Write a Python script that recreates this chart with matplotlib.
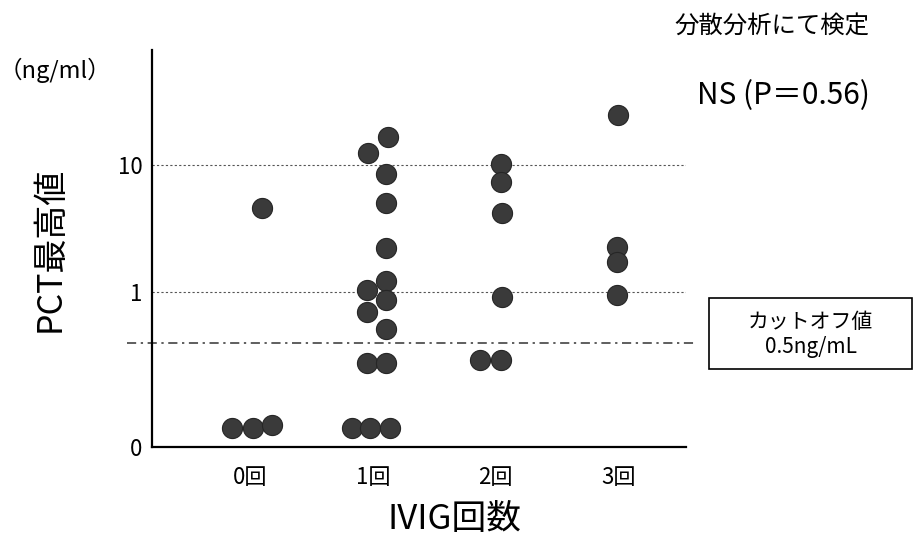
import matplotlib
matplotlib.use("Agg")
import matplotlib.pyplot as plt
from matplotlib.patches import Rectangle

plt.rcParams['font.family'] = ['Noto Sans CJK JP', 'DejaVu Sans']

# IVIG回数ごとの PCT最高値 (ng/ml)、横方向のずらしはカテゴリ内の並び
categories = ['0回', '1回', '2回', '3回']
vals_0 = [0.085, 0.085, 0.089, 4.6]
dodge_0 = [-0.15, 0.02, 0.18, 0.10]
vals_1 = [16.6, 12.4, 8.5, 5.0, 2.2, 1.22, 1.04, 0.865, 0.70, 0.51,
          0.276, 0.276, 0.085, 0.085, 0.085]
dodge_1 = [0.12, -0.04, 0.11, 0.11, 0.11, 0.11, -0.05, 0.11, -0.05, 0.11,
           -0.05, 0.11, -0.17, -0.02, 0.14]
vals_2 = [10.2, 7.35, 4.19, 0.91, 0.29, 0.29]
dodge_2 = [0.04, 0.04, 0.05, 0.05, -0.13, 0.04]
vals_3 = [24.8, 2.26, 1.72, 0.95]
dodge_3 = [0.0, -0.01, -0.01, -0.01]
cutoff = 0.4
ytick_vals = [0.0602, 1, 10]
ytick_labels = ['0', '1', '10']

groups = [(vals_0, dodge_0), (vals_1, dodge_1), (vals_2, dodge_2), (vals_3, dodge_3)]

fig = plt.figure(figsize=(9.14, 5.49), dpi=100)
ax = fig.add_axes([0.1663, 0.1858, 0.5842, 0.7232])

for i, (vals, dodge) in enumerate(groups):
    xs = [i + d for d in dodge]
    ax.scatter(xs, vals, s=210, color='#3a3a3a', edgecolor='#262626',
               linewidth=0.8, zorder=3)

ax.set_yscale('log')
ax.set_ylim(0.0602, 80.4)
ax.set_xlim(-0.80, 3.55)

for g in [1, 10]:
    ax.axhline(g, color='#555555', linestyle=(0, (2, 2)), linewidth=0.8, zorder=1)
ax.axhline(cutoff, xmin=-0.047, xmax=1.02, color='#333333',
           linestyle=(0, (6, 3, 1.5, 3)), linewidth=1.1, clip_on=False, zorder=1)

ax.set_yticks(ytick_vals)
ax.set_yticklabels(ytick_labels)
ax.minorticks_off()
ax.set_xticks(range(len(categories)))
ax.set_xticklabels(categories)
ax.tick_params(axis='both', length=0, labelsize=16)
ax.tick_params(axis='x', pad=14)
ax.tick_params(axis='y', pad=7)

for s in ['top', 'right']:
    ax.spines[s].set_visible(False)
for s in ['left', 'bottom']:
    ax.spines[s].set_linewidth(1.6)
    ax.spines[s].set_color('black')

fig.text(0.055, 0.545, 'PCT最高値', rotation=90, ha='center', va='center', fontsize=24.5)
fig.text(0.497, 0.053, 'IVIG回数', ha='center', va='center', fontsize=25)
fig.text(0.060, 0.872, '（ng/ml）', ha='center', va='center', fontsize=17)
fig.text(0.845, 0.951, '分散分析にて検定', ha='center', va='center', fontsize=17.6)
fig.text(0.857, 0.826, 'NS (P＝0.56)', ha='center', va='center', fontsize=21.5)

fig.add_artist(Rectangle((0.776, 0.328), 0.222, 0.129, transform=fig.transFigure,
                         fill=False, edgecolor='black', linewidth=1.2))
fig.text(0.887, 0.391, 'カットオフ値\n0.5ng/mL', ha='center', va='center',
         fontsize=15, linespacing=1.2)

fig.savefig('out.png', dpi=100)
